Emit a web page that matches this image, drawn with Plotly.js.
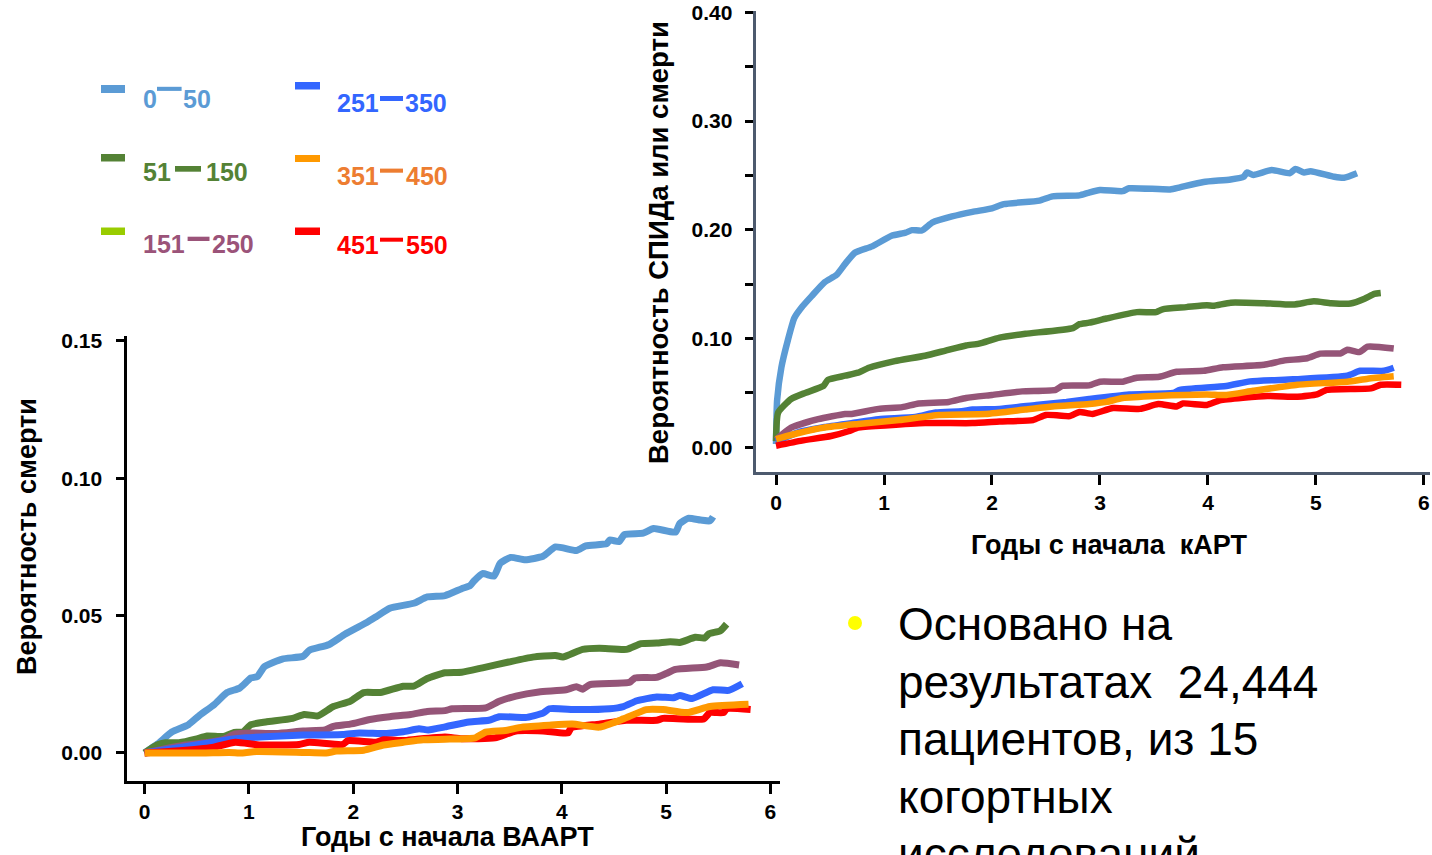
<!DOCTYPE html>
<html>
<head>
<meta charset="utf-8">
<script src="https://cdn.plot.ly/plotly-3.0.1.min.js"></script>
<style>
html, body { margin: 0; padding: 0; background: #ffffff; }
#chart { width: 1432px; height: 855px; }
</style>
</head>
<body>
<div id="chart"></div>
<script>
// ---------------- DATA ----------------
// CD4 groups (legend labels split around the dash)
const cd4Low  = ['0', '51', '151', '251', '351', '451'];
const cd4High = ['50', '150', '250', '350', '450', '550'];

// Left chart: probability of death vs years since start of HAART
const death_t_0_50 = [0, 0.13, 0.26, 0.42, 0.52, 0.67, 0.79, 0.91, 1.02, 1.08, 1.15, 1.32, 1.52, 1.58, 1.77, 1.92, 2.13, 2.22, 2.35, 2.58, 2.71, 2.88, 3.04, 3.12, 3.16, 3.24, 3.35, 3.41, 3.51, 3.65, 3.82, 3.94, 4.14, 4.23, 4.43, 4.46, 4.55, 4.60, 4.78, 4.88, 5.09, 5.13, 5.21, 5.33, 5.42, 5.45];
const death_p_0_50 = [0, 0.0034, 0.0076, 0.0103, 0.0135, 0.0177, 0.0220, 0.0236, 0.0273, 0.0278, 0.0315, 0.0342, 0.0352, 0.0374, 0.0395, 0.0432, 0.0475, 0.0496, 0.0527, 0.0545, 0.0568, 0.0573, 0.0598, 0.0609, 0.0627, 0.0653, 0.0644, 0.0691, 0.0712, 0.0703, 0.0716, 0.0750, 0.0737, 0.0754, 0.0762, 0.0775, 0.0770, 0.0795, 0.0800, 0.0817, 0.0804, 0.0835, 0.0854, 0.0848, 0.0845, 0.0860];

const death_t_51_150 = [0, 0.12, 0.20, 0.33, 0.49, 0.60, 0.76, 0.86, 0.94, 1.02, 1.16, 1.42, 1.53, 1.66, 1.81, 1.97, 2.10, 2.26, 2.48, 2.58, 2.71, 2.88, 3.04, 3.24, 3.49, 3.72, 3.94, 4.01, 4.20, 4.36, 4.62, 4.76, 4.91, 5.04, 5.13, 5.28, 5.37, 5.41, 5.52, 5.58];
const death_p_51_150 = [0, 0.0029, 0.0037, 0.0037, 0.0050, 0.0062, 0.0060, 0.0075, 0.0076, 0.0103, 0.0113, 0.0126, 0.0140, 0.0135, 0.0169, 0.0188, 0.0220, 0.0220, 0.0243, 0.0243, 0.0271, 0.0292, 0.0294, 0.0310, 0.0331, 0.0349, 0.0355, 0.0349, 0.0377, 0.0381, 0.0377, 0.0398, 0.0400, 0.0405, 0.0402, 0.0421, 0.0419, 0.0434, 0.0445, 0.0469];

const death_t_151_250 = [0, 0.17, 0.39, 0.62, 0.76, 0.87, 1.00, 1.26, 1.52, 1.73, 1.81, 1.97, 2.16, 2.35, 2.55, 2.71, 2.88, 2.95, 3.27, 3.40, 3.56, 3.78, 4.04, 4.14, 4.20, 4.27, 4.65, 4.70, 4.91, 5.00, 5.09, 5.39, 5.52, 5.70];
const death_p_151_250 = [0, 0.0013, 0.0029, 0.0039, 0.0050, 0.0069, 0.0073, 0.0071, 0.0080, 0.0084, 0.0097, 0.0105, 0.0122, 0.0132, 0.0140, 0.0151, 0.0154, 0.0161, 0.0164, 0.0188, 0.0207, 0.0222, 0.0230, 0.0241, 0.0232, 0.0249, 0.0257, 0.0273, 0.0275, 0.0289, 0.0304, 0.0313, 0.0328, 0.0320];

const death_t_251_350 = [0, 0.39, 0.75, 0.97, 1.20, 1.52, 1.90, 2.06, 2.32, 2.48, 2.63, 2.72, 2.88, 3.11, 3.30, 3.40, 3.65, 3.82, 3.88, 4.14, 4.46, 4.59, 4.72, 4.91, 5.07, 5.13, 5.25, 5.45, 5.60, 5.73];
const death_p_251_350 = [0, 0.0023, 0.0045, 0.0055, 0.0060, 0.0065, 0.0067, 0.0073, 0.0071, 0.0077, 0.0088, 0.0084, 0.0095, 0.0113, 0.0119, 0.0132, 0.0129, 0.0145, 0.0161, 0.0158, 0.0161, 0.0169, 0.0190, 0.0204, 0.0201, 0.0209, 0.0198, 0.0230, 0.0228, 0.0252];

const death_t_351_450 = [0, 0.23, 0.55, 0.81, 0.94, 1.07, 1.52, 1.74, 1.84, 2.10, 2.29, 2.48, 2.67, 2.88, 3.17, 3.27, 3.46, 3.62, 3.88, 4.10, 4.36, 4.59, 4.81, 4.97, 5.20, 5.42, 5.79];
const death_p_351_450 = [0, 0, 0, 0.0002, 0, 0.0005, 0.0002, 0, 0.0007, 0.0010, 0.0029, 0.0039, 0.0048, 0.0050, 0.0055, 0.0076, 0.0082, 0.0094, 0.0101, 0.0105, 0.0094, 0.0124, 0.0158, 0.0158, 0.0147, 0.0169, 0.0177];

const death_t_451_550 = [0, 0.30, 0.65, 0.87, 1.10, 1.48, 1.58, 1.90, 1.95, 2.22, 2.29, 2.48, 2.61, 2.88, 3.04, 3.36, 3.56, 3.82, 4.06, 4.09, 4.36, 4.62, 4.91, 4.97, 5.36, 5.42, 5.55, 5.58, 5.81];
const death_p_451_550 = [0, 0.0007, 0.0020, 0.0039, 0.0029, 0.0031, 0.0039, 0.0031, 0.0045, 0.0039, 0.0048, 0.0045, 0.0050, 0.0058, 0.0052, 0.0055, 0.0080, 0.0080, 0.0073, 0.0092, 0.0105, 0.0119, 0.0119, 0.0126, 0.0124, 0.0147, 0.0147, 0.0161, 0.0158];

// Right chart: probability of AIDS or death vs years since start of cART
const aids_t_0_50 = [0, 0.01, 0.05, 0.11, 0.17, 0.24, 0.33, 0.45, 0.56, 0.64, 0.73, 0.89, 1.07, 1.20, 1.26, 1.35, 1.45, 1.63, 1.82, 2.00, 2.11, 2.44, 2.56, 2.81, 2.89, 3.00, 3.21, 3.27, 3.65, 3.74, 3.96, 4.21, 4.33, 4.36, 4.42, 4.59, 4.76, 4.81, 4.89, 4.95, 5.17, 5.26, 5.38];
const aids_p_0_50 = [0.003, 0.043, 0.0736, 0.0986, 0.119, 0.129, 0.139, 0.1518, 0.1585, 0.1687, 0.1789, 0.1848, 0.1945, 0.1974, 0.1997, 0.1994, 0.2068, 0.2123, 0.2165, 0.2197, 0.2236, 0.2269, 0.2308, 0.2317, 0.2340, 0.2366, 0.2356, 0.2382, 0.2372, 0.2391, 0.2440, 0.2463, 0.2488, 0.2527, 0.2505, 0.2550, 0.2521, 0.2560, 0.2527, 0.2540, 0.2488, 0.2479, 0.2521];

const aids_t_51_150 = [0, 0.02, 0.14, 0.27, 0.44, 0.48, 0.64, 0.76, 0.86, 1.10, 1.38, 1.57, 1.76, 1.88, 2.07, 2.31, 2.75, 2.81, 2.90, 3.06, 3.34, 3.52, 3.58, 3.80, 3.99, 4.05, 4.21, 4.52, 4.79, 4.98, 5.14, 5.32, 5.45, 5.54, 5.60];
const aids_p_51_150 = [0.0056, 0.0319, 0.0444, 0.0500, 0.0564, 0.0620, 0.0658, 0.0686, 0.0731, 0.0792, 0.0842, 0.0889, 0.0936, 0.0953, 0.1009, 0.1044, 0.1096, 0.1132, 0.1146, 0.1184, 0.1243, 0.1243, 0.1269, 0.1289, 0.1307, 0.1301, 0.1330, 0.1325, 0.1313, 0.1342, 0.1325, 0.1322, 0.1366, 0.1410, 0.1418];

const aids_t_151_250 = [0, 0.14, 0.39, 0.64, 0.70, 0.95, 1.17, 1.32, 1.60, 1.76, 2.00, 2.28, 2.59, 2.65, 2.90, 3.00, 3.21, 3.34, 3.55, 3.71, 3.96, 4.14, 4.52, 4.70, 4.92, 5.04, 5.23, 5.29, 5.40, 5.48, 5.72];
const aids_p_151_250 = [0.007, 0.018, 0.0258, 0.0306, 0.0306, 0.0353, 0.0369, 0.0403, 0.0417, 0.0453, 0.0481, 0.0514, 0.0528, 0.0564, 0.0569, 0.0603, 0.0603, 0.0639, 0.0648, 0.0694, 0.0703, 0.0736, 0.0758, 0.0797, 0.0819, 0.0861, 0.0864, 0.0897, 0.0875, 0.0925, 0.0908];

const aids_t_251_350 = [0, 0.21, 0.45, 0.70, 0.95, 1.29, 1.48, 1.72, 1.82, 2.07, 2.41, 2.69, 2.90, 3.27, 3.68, 3.74, 4.17, 4.39, 4.79, 5.29, 5.41, 5.63, 5.72];
const aids_p_251_350 = [0.005, 0.0139, 0.0186, 0.0222, 0.0258, 0.0278, 0.0319, 0.0331, 0.0347, 0.0353, 0.0389, 0.0417, 0.0444, 0.0486, 0.0500, 0.0528, 0.0564, 0.0606, 0.0625, 0.0658, 0.0703, 0.0703, 0.0731];

const aids_t_351_450 = [0, 0.21, 0.45, 0.76, 1.14, 1.51, 1.94, 2.31, 2.56, 2.90, 3.06, 3.21, 3.52, 3.99, 4.17, 4.42, 4.83, 5.29, 5.48, 5.72];
const aids_p_351_450 = [0.0075, 0.0131, 0.0181, 0.0214, 0.0250, 0.0297, 0.0306, 0.0347, 0.0375, 0.0397, 0.0417, 0.0453, 0.0472, 0.0486, 0.0481, 0.0519, 0.0575, 0.0603, 0.0631, 0.0653];

const aids_t_451_550 = [0, 0.24, 0.51, 0.67, 0.76, 1.01, 1.38, 1.82, 2.07, 2.38, 2.50, 2.62, 2.72, 2.81, 2.93, 3.12, 3.37, 3.54, 3.71, 3.77, 3.99, 4.11, 4.55, 4.83, 5.01, 5.10, 5.51, 5.60, 5.79];
const aids_p_451_550 = [0.0014, 0.0061, 0.0103, 0.0147, 0.0181, 0.0200, 0.0222, 0.0222, 0.0236, 0.0250, 0.0297, 0.0292, 0.0286, 0.0325, 0.0306, 0.0361, 0.0353, 0.0397, 0.0375, 0.0403, 0.0389, 0.0431, 0.0472, 0.0464, 0.0486, 0.0528, 0.0542, 0.0575, 0.0575];

// Tick labels
const xTickVals = [0, 1, 2, 3, 4, 5, 6];
const xTickText = ['0', '1', '2', '3', '4', '5', '6'];
const deathTickVals = [0, 0.05, 0.10, 0.15];
const deathTickText = ['0.00', '0.05', '0.10', '0.15'];
const aidsTickVals = [0, 0.05, 0.10, 0.15, 0.20, 0.25, 0.30, 0.35, 0.40];
const aidsTickText = ['0.00', '', '0.10', '', '0.20', '', '0.30', '', '0.40'];

// Text
const deathYTitle = 'Вероятность смерти';
const deathXTitle = 'Годы с начала ВААРТ';
const aidsYTitle = 'Вероятность СПИДа или смерти';
const aidsXTitle = 'Годы с начала\u00a0\u00a0кАРТ';
const bulletLines = ['Основано на', 'результатах \u00a024,444', 'пациентов, из 15', 'когортных', 'исследований'];

// ---------------- STYLE ----------------
const W = 1432, H = 855;
const px = x => x / W;
const py = y => 1 - y / H;

const lineColors   = ['#5B9BD5', '#548235', '#955578', '#3366FF', '#FF9900', '#FF0000'];
const swatchColors = ['#5B9BD5', '#548235', '#99CC00', '#3366FF', '#FF9900', '#FF0000'];
const textColors   = ['#5B9BD5', '#548235', '#9B5379', '#3366FF', '#ED7D31', '#FF0000'];
const drawOrder = [0, 1, 2, 3, 5, 4];

const deathSeries = [
  [death_t_0_50, death_p_0_50], [death_t_51_150, death_p_51_150], [death_t_151_250, death_p_151_250],
  [death_t_251_350, death_p_251_350], [death_t_351_450, death_p_351_450], [death_t_451_550, death_p_451_550]
];
const aidsSeries = [
  [aids_t_0_50, aids_p_0_50], [aids_t_51_150, aids_p_51_150], [aids_t_151_250, aids_p_151_250],
  [aids_t_251_350, aids_p_251_350], [aids_t_351_450, aids_p_351_450], [aids_t_451_550, aids_p_451_550]
];

const traces = [];
drawOrder.forEach(i => {
  traces.push({
    x: deathSeries[i][0], y: deathSeries[i][1], xaxis: 'x', yaxis: 'y',
    type: 'scatter', mode: 'lines', name: cd4Low[i] + '–' + cd4High[i],
    line: { color: lineColors[i], width: 7, shape: 'spline', smoothing: 0.5 }, hoverinfo: 'skip'
  });
});
drawOrder.forEach(i => {
  traces.push({
    x: aidsSeries[i][0], y: aidsSeries[i][1], xaxis: 'x2', yaxis: 'y2',
    type: 'scatter', mode: 'lines', name: cd4Low[i] + '–' + cd4High[i],
    line: { color: lineColors[i], width: 6.5, shape: 'spline', smoothing: 0.5 }, hoverinfo: 'skip'
  });
});

const tickFont = { family: 'Liberation Sans, Arial, sans-serif', size: 21, color: '#000', weight: 'bold' };

// legend geometry (pixels)
const legendGeom = [
  { sw: [101, 125, 85, 93],    lx: 143, dash: [157, 181.6, 86.8, 90.9],  rx: 210.5, ty: 98.7 },
  { sw: [101, 125, 154, 161.5], lx: 143, dash: [175, 201, 166, 171.7],   rx: 248.5, ty: 172.2 },
  { sw: [101, 125, 227.5, 235], lx: 143, dash: [187.6, 209.5, 236.7, 241], rx: 254, ty: 244.4 },
  { sw: [295, 320, 82, 89.5],   lx: 337, dash: [380, 403, 96, 101],      rx: 447, ty: 102.8 },
  { sw: [295, 320, 155, 162],   lx: 337, dash: [380, 403, 168.6, 172.7], rx: 448, ty: 176 },
  { sw: [295, 320, 227.5, 235], lx: 337, dash: [380, 403, 237.7, 241.7], rx: 448, ty: 244.8 }
];

const shapes = [];
const annotations = [];
const legFont = (c) => ({ family: 'Liberation Sans, Arial, sans-serif', size: 25, color: c, weight: 'bold' });

legendGeom.forEach((g, i) => {
  shapes.push({ type: 'rect', xref: 'paper', yref: 'paper', x0: px(g.sw[0]), x1: px(g.sw[1]), y0: py(g.sw[3]), y1: py(g.sw[2]),
    fillcolor: swatchColors[i], line: { width: 0 } });
  shapes.push({ type: 'rect', xref: 'paper', yref: 'paper', x0: px(g.dash[0]), x1: px(g.dash[1]), y0: py(g.dash[3]), y1: py(g.dash[2]),
    fillcolor: textColors[i], line: { width: 0 } });
  annotations.push({ xref: 'paper', yref: 'paper', x: px(g.lx), y: py(g.ty), xanchor: 'left', yanchor: 'middle',
    text: cd4Low[i], showarrow: false, font: legFont(textColors[i]), borderpad: 0, borderwidth: 0 });
  annotations.push({ xref: 'paper', yref: 'paper', x: px(g.rx), y: py(g.ty), xanchor: 'right', yanchor: 'middle',
    text: cd4High[i], showarrow: false, font: legFont(textColors[i]), borderpad: 0, borderwidth: 0 });
});

const yTitleFont = { family: 'Liberation Sans, Arial, sans-serif', size: 27, color: '#000', weight: 'bold' };
const xTitleFont = { family: 'Liberation Sans, Arial, sans-serif', size: 27, color: '#000', weight: 'bold' };
annotations.push({ xref: 'paper', yref: 'paper', x: px(27), y: py(537), textangle: -90, xanchor: 'center', yanchor: 'middle',
  text: deathYTitle, showarrow: false, font: yTitleFont, borderpad: 0 });
annotations.push({ xref: 'paper', yref: 'paper', x: px(447), y: py(853), xanchor: 'center', yanchor: 'bottom',
  text: deathXTitle, showarrow: false, font: xTitleFont, borderpad: 0 });
annotations.push({ xref: 'paper', yref: 'paper', x: px(658), y: py(243), textangle: -90, xanchor: 'center', yanchor: 'middle',
  text: aidsYTitle, showarrow: false, font: { family: 'Liberation Sans, Arial, sans-serif', size: 27.5, color: '#000', weight: 'bold' }, borderpad: 0 });
annotations.push({ xref: 'paper', yref: 'paper', x: px(1109), y: py(545), xanchor: 'center', yanchor: 'middle',
  text: aidsXTitle, showarrow: false, font: xTitleFont, borderpad: 0 });

// bullet text
shapes.push({ type: 'circle', xref: 'paper', yref: 'paper', x0: px(848), x1: px(862), y0: py(630), y1: py(616),
  fillcolor: '#FFFF00', line: { width: 0 } });
bulletLines.forEach((t, k) => {
  annotations.push({ xref: 'paper', yref: 'paper', x: px(897), y: py(624 + 57.5 * k), xanchor: 'left', yanchor: 'middle',
    text: t, showarrow: false, borderpad: 0,
    font: { family: 'Liberation Sans, Arial, sans-serif', size: 46, color: '#000' } });
});

const layout = {
  width: W, height: H,
  margin: { l: 0, r: 0, t: 0, b: 0, pad: 0 },
  paper_bgcolor: '#ffffff', plot_bgcolor: 'rgba(0,0,0,0)',
  showlegend: false,
  xaxis: {
    domain: [px(127.3), px(779.6)], range: [-0.166, 6.088], anchor: 'y',
    showline: true, linecolor: '#000', linewidth: 3, showgrid: false, zeroline: false,
    ticks: 'outside', ticklen: 10, tickwidth: 3, tickcolor: '#000',
    tickvals: xTickVals, ticktext: xTickText, tickfont: tickFont, ticklabelstandoff: 0, fixedrange: true
  },
  yaxis: {
    domain: [py(780.7), py(336)], range: [-0.0101, 0.1518], anchor: 'x',
    showline: true, linecolor: '#000', linewidth: 3, showgrid: false, zeroline: false,
    ticks: 'outside', ticklen: 8, tickwidth: 3, tickcolor: '#000',
    tickvals: deathTickVals, ticktext: deathTickText, tickfont: tickFont, ticklabelstandoff: 10, fixedrange: true
  },
  xaxis2: {
    domain: [px(755.6), px(1430)], range: [-0.189, 6.056], anchor: 'y2',
    showline: true, linecolor: '#4d5a6e', linewidth: 3, showgrid: false, zeroline: false,
    ticks: 'outside', ticklen: 10, tickwidth: 3, tickcolor: '#000',
    tickvals: xTickVals, ticktext: xTickText, tickfont: tickFont, ticklabelstandoff: 0, fixedrange: true
  },
  yaxis2: {
    domain: [py(471.7), py(11)], range: [-0.0225, 0.4013], anchor: 'x2',
    showline: true, linecolor: '#4d5a6e', linewidth: 3, showgrid: false, zeroline: false,
    ticks: 'outside', ticklen: 8, tickwidth: 3, tickcolor: '#000',
    tickvals: aidsTickVals, ticktext: aidsTickText, tickfont: tickFont, ticklabelstandoff: 8, fixedrange: true
  },
  shapes: shapes,
  annotations: annotations
};

Plotly.newPlot('chart', traces, layout, { staticPlot: true, displayModeBar: false });
</script>
</body>
</html>
